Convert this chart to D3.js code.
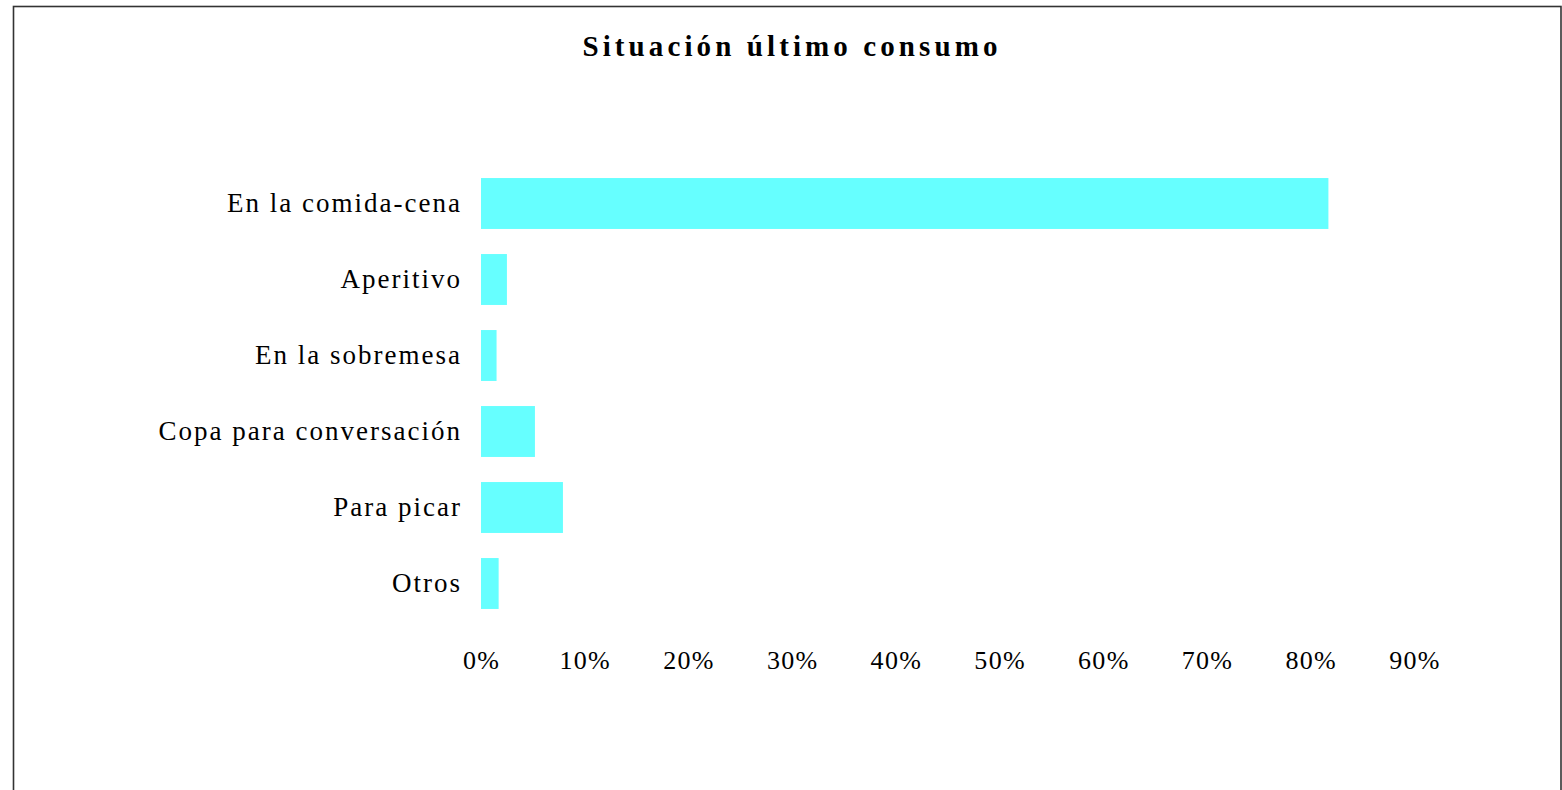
<!DOCTYPE html>
<html>
<head>
<meta charset="utf-8">
<script src="https://cdn.jsdelivr.net/npm/d3@7"></script>
<style>
  html, body { margin: 0; padding: 0; background: #fff; }
  svg { display: block; }
  text { font-family: "Liberation Serif", "Times New Roman", serif; fill: #000; }
</style>
</head>
<body>
<svg id="chart" width="1562" height="790"></svg>
<script>
const title = "Situación último consumo";
const categories = ["En la comida-cena", "Aperitivo", "En la sobremesa", "Copa para conversación", "Para picar", "Otros"];
const values = [0.817, 0.025, 0.015, 0.052, 0.079, 0.017];
const tickValues = [0, 0.1, 0.2, 0.3, 0.4, 0.5, 0.6, 0.7, 0.8, 0.9];

const svg = d3.select("#chart");

// frame
svg.append("rect")
  .attr("x", 13.5).attr("y", 6.5)
  .attr("width", 1547.5).attr("height", 800)
  .attr("fill", "none").attr("stroke", "#333").attr("stroke-width", 1.6);

// title
svg.append("text")
  .attr("x", 792).attr("y", 56)
  .attr("text-anchor", "middle")
  .style("font-size", "29px").style("font-weight", "bold")
  .style("letter-spacing", "4.1px")
  .text(title);

const x = d3.scaleLinear().domain([0, 0.9]).range([481, 1414.5]);
const y = d3.scaleBand().domain(categories).range([165.5, 621.5]).paddingInner(0.33).paddingOuter(0.165);

svg.append("g").selectAll("rect").data(categories).join("rect")
  .attr("x", x(0))
  .attr("y", d => y(d))
  .attr("width", (d, i) => x(values[i]) - x(0))
  .attr("height", y.bandwidth())
  .attr("fill", "#66FFFF");

const yAxis = svg.append("g")
  .attr("transform", `translate(${x(0)},0)`)
  .call(d3.axisLeft(y).tickSize(0).tickPadding(19));
yAxis.select(".domain").remove();
yAxis.selectAll("text")
  .attr("font-family", null).attr("font-size", null)
  .style("font-size", "27px").style("letter-spacing", "2px");

const xAxis = svg.append("g")
  .attr("transform", "translate(0,650.5)")
  .call(d3.axisBottom(x).tickValues(tickValues).tickSize(0).tickPadding(0).tickFormat(d3.format(".0%")));
xAxis.select(".domain").remove();
xAxis.selectAll("text")
  .attr("font-family", null).attr("font-size", null)
  .style("font-size", "26px").style("letter-spacing", "1.3px");
</script>
</body>
</html>
